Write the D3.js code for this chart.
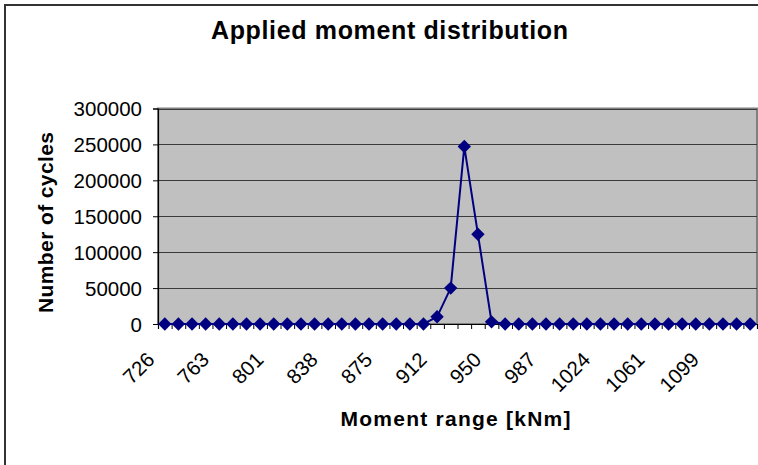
<!DOCTYPE html>
<html><head><meta charset="utf-8">
<script src="https://cdn.jsdelivr.net/npm/d3@7"></script>
<style>html,body{margin:0;padding:0;background:#fff;}svg{display:block;}</style>
</head><body>
<svg id="c" width="758" height="465"></svg>
<script>
const categories = ["726","735","745","754","763","773","782","791","801","810","819","829","838","847","857","866","875","885","894","903","912","922","931","940","950","959","968","978","987","996","1006","1015","1024","1034","1043","1052","1061","1071","1080","1089","1099","1108","1117","1127"];
const cycles = [0,0,0,0,0,0,0,0,0,0,0,0,0,0,0,0,0,0,0,0,10000,50000,247000,125000,3000,0,0,0,0,0,0,0,0,0,0,0,0,0,0,0,0,0,0,0];
const tickLabels = ["726","763","801","838","875","912","950","987","1024","1061","1099"];
const yTicks = [0,50000,100000,150000,200000,250000,300000];
const titleText = "Applied moment distribution";
const xTitle = "Moment range [kNm]";
const yTitle = "Number of cycles";

const svg = d3.select("#c");
const font = "'Liberation Sans', Arial, sans-serif";
const L = 158, R = 757, T = 108.5, B = 324;

// outer border
svg.append("rect").attr("x",5).attr("y",5).attr("width",770).attr("height",480)
  .attr("fill","#fff").attr("stroke","#333").attr("stroke-width",2);

const x = d3.scaleBand().domain(categories).range([L,R]).padding(0);
const xi = d3.scaleLinear().domain([0,categories.length]).range([L,R]);
const y = d3.scaleLinear().domain([0,300000]).range([B,T]);

// plot background
svg.append("rect").attr("x",L).attr("y",T).attr("width",R-L).attr("height",B-T)
  .attr("fill","#c0c0c0").attr("stroke","#808080").attr("stroke-width",2);

// gridlines
svg.append("g").selectAll("line").data(yTicks.filter(d=>d>0)).join("line")
  .attr("x1",L).attr("x2",R).attr("y1",d=>Math.round(y(d))+0.5).attr("y2",d=>Math.round(y(d))+0.5)
  .attr("stroke","#3a3a3a").attr("stroke-width",1.2);

// y axis
const ya = svg.append("g").attr("transform",`translate(${L},0)`)
  .call(d3.axisLeft(y).tickValues(yTicks).tickSize(5).tickPadding(11).tickFormat(d3.format("d")));
ya.select(".domain").attr("stroke","#000").attr("stroke-width",1.2);
ya.selectAll(".tick line").attr("stroke","#000");
ya.selectAll("text").attr("font-family",font).attr("font-size","20.5px").attr("fill","#000")
  .attr("dy","0.36em");

// x axis tick marks between categories
const xt = svg.append("g").attr("transform",`translate(0,${B})`)
  .call(d3.axisBottom(xi).tickValues(d3.range(categories.length+1)).tickSize(5).tickFormat(""));
xt.select(".domain").attr("stroke","#000").attr("stroke-width",1.2);
xt.selectAll(".tick line").attr("stroke","#000");

// x labels
const xl = svg.append("g").attr("transform",`translate(0,${B})`)
  .call(d3.axisBottom(x).tickValues(tickLabels).tickSize(0).tickFormat(d=>d));
xl.select(".domain").remove();
xl.selectAll("text").attr("font-family",font).attr("font-size","20.5px").attr("fill","#000")
  .attr("text-anchor","end").attr("x",0).attr("y",0).attr("dy",0)
  .attr("transform","translate(-9,37) rotate(-45)");

// line + markers
const line = d3.line().x((d,i)=>x(categories[i])+x.bandwidth()/2).y(d=>y(d));
svg.append("path").datum(cycles).attr("d",line).attr("fill","none")
  .attr("stroke","#000080").attr("stroke-width",2);
const s = 6.7;
svg.append("g").selectAll("path").data(cycles).join("path")
  .attr("transform",(d,i)=>`translate(${x(categories[i])+x.bandwidth()/2},${y(d)})`)
  .attr("d",`M0,${-s}L${s},0L0,${s}L${-s},0Z`).attr("fill","#000080");

// titles
svg.append("text").attr("x",389.5).attr("y",39).attr("text-anchor","middle")
  .attr("font-family",font).attr("font-weight","bold").attr("font-size","25px")
  .attr("textLength",357).attr("lengthAdjust","spacing").text(titleText);
svg.append("text").attr("x",455.5).attr("y",426).attr("text-anchor","middle")
  .attr("font-family",font).attr("font-weight","bold").attr("font-size","21px")
  .attr("textLength",230).attr("lengthAdjust","spacing").text(xTitle);
svg.append("text").attr("transform","translate(53,222.5) rotate(-90)").attr("text-anchor","middle")
  .attr("font-family",font).attr("font-weight","bold").attr("font-size","21px")
  .attr("textLength",181).attr("lengthAdjust","spacing").text(yTitle);
</script>
</body></html>
